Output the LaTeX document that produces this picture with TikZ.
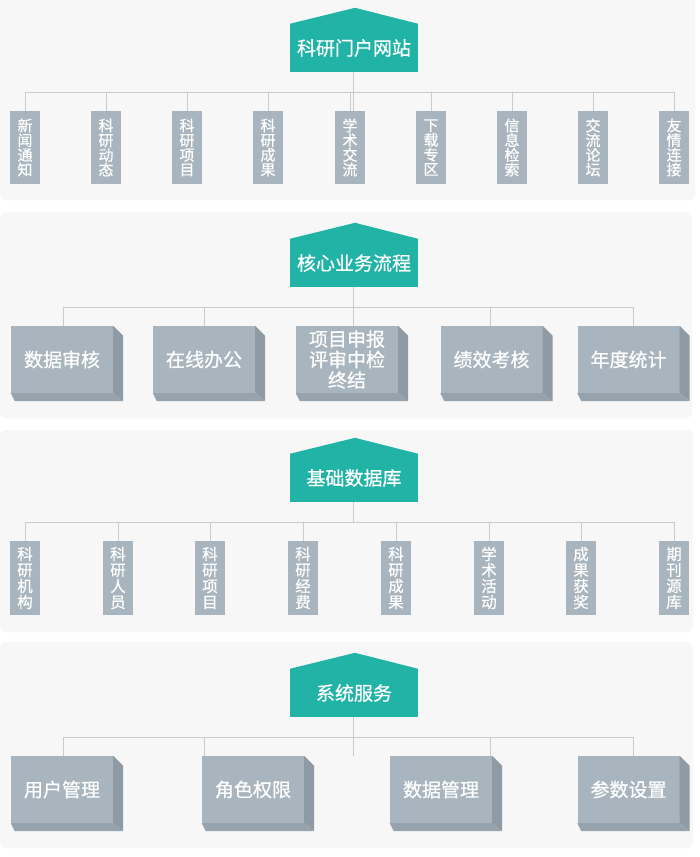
\documentclass[tikz,border=0pt]{standalone}
\usepackage{fontspec}
\newfontfamily\cjk[FakeBold=0.6]{Noto Sans CJK SC}
\usetikzlibrary{calc}
\definecolor{panelc}{HTML}{F7F7F7}
\definecolor{tealc}{HTML}{21B3A5}
\definecolor{boxc}{HTML}{A9B5BE}
\definecolor{sidec}{HTML}{8E9BA4}
\definecolor{botc}{HTML}{97A3AC}
\definecolor{linec}{HTML}{CACACA}
\begin{document}
\begin{tikzpicture}[x=1pt,y=-1pt,
  panel/.style={fill=panelc, rounded corners=6pt},
  hdr/.style={fill=tealc, text=white, minimum width=128pt, minimum height=48pt, inner sep=0pt,
    font=\cjk\fontsize{19}{22}\selectfont},
  roof/.style={fill=tealc},
  vbox/.style={fill=boxc, text=white, minimum width=30pt, minimum height=73pt, inner sep=0pt,
    align=center, font=\cjk\fontsize{15}{14.7}\selectfont},
  vboxb/.style={vbox, minimum height=74pt, font=\cjk\fontsize{15.5}{16}\selectfont},
  bbox/.style={fill=boxc, text=white, minimum width=102pt, minimum height=67pt, inner sep=0pt,
    align=center, font=\cjk\fontsize{19}{20.5}\selectfont},
  conn/.style={draw=linec, line width=0.8pt},
  sidef/.style={fill=sidec},
  botf/.style={fill=botc}
]
\useasboundingbox (0,0) rectangle (700,857);
\fill[white] (0,0) rectangle (700,857);
% panels
\fill[panel] (0,-10) rectangle (695,200);
\fill[panel] (0,212) rectangle (692,418);
\fill[panel] (0,430) rectangle (693,632);
\fill[panel] (0,642) rectangle (693,848);

% ---------- section 1 ----------
\node[hdr] (h1) at (354,48) {科研门户网站};
\fill[roof] (h1.north west) -- ([shift={(1,-16)}]h1.north) -- (h1.north east) -- cycle;
\node[vbox] (v1) at (25,147.5) {新\\闻\\通\\知};
\node[vbox] (v2) at (106,147.5) {科\\研\\动\\态};
\node[vbox] (v3) at (187,147.5) {科\\研\\项\\目};
\node[vbox] (v4) at (268,147.5) {科\\研\\成\\果};
\node[vbox] (v5) at (350,147.5) {学\\术\\交\\流};
\node[vbox] (v6) at (431,147.5) {下\\载\\专\\区};
\node[vbox] (v7) at (512,147.5) {信\\息\\检\\索};
\node[vbox] (v8) at (593,147.5) {交\\流\\论\\坛};
\node[vbox] (v9) at (674,147.5) {友\\情\\连\\接};
\coordinate (bus1) at (0,92);
\draw[conn] ([xshift=-1pt]h1.south) -- ([xshift=-1pt]h1.south |- v5.north);
\draw[conn] (v1.north |- bus1) -- (v9.north |- bus1);
\foreach \i in {1,...,9} { \draw[conn] (v\i.north) -- (v\i.north |- bus1); }

% ---------- section 2 ----------
\node[hdr] (h2) at (354,263) {核心业务流程};
\fill[roof] (h2.north west) -- ([shift={(1,-16)}]h2.north) -- (h2.north east) -- cycle;
\node[bbox] (b1) at (62,359.5) {数据审核};
\node[bbox] (b2) at (204,359.5) {在线办公};
\node[bbox] (b3) at (347,359.5) {项目申报\\评审中检\\终结};
\node[bbox] (b4) at (491.5,359.5) {绩效考核};
\node[bbox] (b5) at (628.5,359.5) {年度统计};
\foreach \n in {b1,b2,b3,b4,b5} {
  \fill[sidef] (\n.north east) -- ++(10,10) -- ([shift={(10,8)}]\n.south east) -- (\n.south east) -- cycle;
  \fill[botf] (\n.south west) -- ([shift={(4,8)}]\n.south west) -- ([shift={(10,8)}]\n.south east) -- (\n.south east) -- cycle;
}
\coordinate (bus2) at (0,307);
\draw[conn] ([xshift=-1pt]h2.south) -- ([xshift=-1pt]h2.south |- b3.north);
\draw[conn] ([xshift=1pt]b1.north |- bus2) -- ([xshift=4.5pt]b5.north |- bus2);
\draw[conn] ([xshift=1pt]b1.north) -- ([xshift=1pt]b1.north |- bus2);
\draw[conn] (b2.north) -- (b2.north |- bus2);
\draw[conn] ([xshift=-1.5pt]b4.north) -- ([xshift=-1.5pt]b4.north |- bus2);
\draw[conn] ([xshift=4.5pt]b5.north) -- ([xshift=4.5pt]b5.north |- bus2);

% ---------- section 3 ----------
\node[hdr] (h3) at (354,478) {基础数据库};
\fill[roof] (h3.north west) -- ([shift={(1,-16)}]h3.north) -- (h3.north east) -- cycle;
\node[vboxb] (w1) at (25,578) {科\\研\\机\\构};
\node[vboxb] (w2) at (118,578) {科\\研\\人\\员};
\node[vboxb] (w3) at (210,578) {科\\研\\项\\目};
\node[vboxb] (w4) at (303,578) {科\\研\\经\\费};
\node[vboxb] (w5) at (396,578) {科\\研\\成\\果};
\node[vboxb] (w6) at (489,578) {学\\术\\活\\动};
\node[vboxb] (w7) at (581,578) {成\\果\\获\\奖};
\node[vboxb] (w8) at (674,578) {期\\刊\\源\\库};
\coordinate (bus3) at (0,522);
\draw[conn] ([xshift=-1pt]h3.south) -- ([xshift=-1pt]h3.south |- bus3);
\draw[conn] (w1.north |- bus3) -- (w8.north |- bus3);
\foreach \i in {1,...,8} { \draw[conn] (w\i.north) -- (w\i.north |- bus3); }

% ---------- section 4 ----------
\node[hdr] (h4) at (354,693) {系统服务};
\fill[roof] (h4.north west) -- ([shift={(1,-16)}]h4.north) -- (h4.north east) -- cycle;
\node[bbox] (c1) at (62,789.5) {用户管理};
\node[bbox] (c2) at (253,789.5) {角色权限};
\node[bbox] (c3) at (441,789.5) {数据管理};
\node[bbox] (c4) at (628.5,789.5) {参数设置};
\foreach \n in {c1,c2,c3,c4} {
  \fill[sidef] (\n.north east) -- ++(10,10) -- ([shift={(10,8)}]\n.south east) -- (\n.south east) -- cycle;
  \fill[botf] (\n.south west) -- ([shift={(4,8)}]\n.south west) -- ([shift={(10,8)}]\n.south east) -- (\n.south east) -- cycle;
}
\coordinate (bus4) at (0,737);
\coordinate (end4) at (0,756);
\draw[conn] ([xshift=-1pt]h4.south) -- ([xshift=-1pt]h4.south |- end4);
\draw[conn] ([xshift=1pt]c1.north |- bus4) -- ([xshift=4.5pt]c4.north |- bus4);
\draw[conn] ([xshift=1pt]c1.north) -- ([xshift=1pt]c1.north |- bus4);
\draw[conn] ([xshift=-49pt]c2.north) -- ([xshift=-49pt]c2.north |- bus4);
\draw[conn] ([xshift=49pt]c3.north) -- ([xshift=49pt]c3.north |- bus4);
\draw[conn] ([xshift=4.5pt]c4.north) -- ([xshift=4.5pt]c4.north |- bus4);
\end{tikzpicture}
\end{document}
